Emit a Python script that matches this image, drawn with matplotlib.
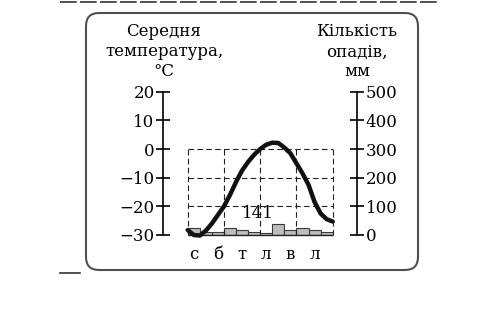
import matplotlib
matplotlib.use('Agg')
import matplotlib.pyplot as plt
from matplotlib.patches import FancyBboxPatch
from matplotlib.lines import Line2D

# data
months = ['с', 'б', 'т', 'л', 'в', 'л']
month_pos = [0.5, 2.5, 4.5, 6.5, 8.5, 10.5]
bar_pos = [0.5, 1.5, 2.5, 3.5, 4.5, 5.5, 6.5, 7.5, 8.5, 9.5, 10.5, 11.5]
precip = [23, 11, 9, 23, 18, 11, 6, 37, 17, 23, 18, 9]
annual_precip = 141
# temperature curve, read every half month
temp_x = [0, 0.5, 1, 1.5, 2, 2.5, 3, 3.5, 4, 4.5, 5, 5.5, 6,
          6.5, 7, 7.5, 8, 8.5, 9, 9.5, 10, 10.5, 11, 11.5, 12]
temp = [-28.3, -30, -30.2, -28.5, -26, -23, -20, -16, -11.5, -7.5, -4.5, -2, 0,
        1.5, 2.2, 2.1, 0.5, -1.5, -5, -8.5, -12.5, -18.5, -22.5, -24.5, -25.3]
temp_ticks = [-30, -20, -10, 0, 10, 20]
precip_ticks = [0, 100, 200, 300, 400, 500]

plt.rcParams['font.family'] = 'DejaVu Serif'
fs = 12

fig = plt.figure(figsize=(4.91, 3.09), dpi=100)

# rounded frame
frame = FancyBboxPatch((0.86, 0.39), 3.32, 2.57,
                       boxstyle='round,pad=0,rounding_size=0.13',
                       transform=fig.dpi_scale_trans, fill=False,
                       edgecolor='#505050', lw=1.5)
fig.patches.append(frame)
# page leftovers
fig.lines.append(Line2D([0.6, 4.4], [3.07, 3.07], transform=fig.dpi_scale_trans,
                        color='#333333', lw=1.2, dashes=(10, 2)))
fig.lines.append(Line2D([0.6, 0.8], [0.36, 0.36], transform=fig.dpi_scale_trans,
                        color='#333333', lw=1.2))

ax = fig.add_axes([0.3823, 0.2395, 0.2953, 0.4638])
ax2 = ax.twinx()
ax.set_zorder(ax2.get_zorder() + 1)
ax.patch.set_visible(False)

ax.set_xlim(0, 12)
ax.set_ylim(-30, 20)
ax2.set_ylim(0, 500)

# precipitation bars
ax2.bar(bar_pos, precip, width=1, color='#bdbdbd', edgecolor='#3a3a3a', lw=0.8)

# dashed grid box
dash = (0, (5, 3))
ax.vlines([0, 3, 6, 9, 12], -30, 0, colors='#222222', lw=0.8,
          linestyles=[dash], clip_on=False)
ax.hlines([0, -10, -20], 0, 12, colors='#222222', lw=0.8,
          linestyles=[dash], clip_on=False)
ax.hlines([-30], 0, 12, colors='#222222', lw=1.0, clip_on=False)

# temperature curve
ax.plot(temp_x, temp, color='#111111', lw=3.2, solid_capstyle='round',
        solid_joinstyle='round', clip_on=False)

ax.text(5.8, -22.6, str(annual_precip), ha='center', va='center', fontsize=fs)

for s in ['top', 'bottom', 'right']:
    ax.spines[s].set_visible(False)
for s in ['top', 'bottom', 'left']:
    ax2.spines[s].set_visible(False)
ax.spines['left'].set_position(('axes', -0.168))
ax.spines['left'].set_bounds(-30, 20)
ax2.spines['right'].set_position(('axes', 1.166))
ax2.spines['right'].set_bounds(0, 500)
ax.spines['left'].set_linewidth(1.2)
ax2.spines['right'].set_linewidth(1.2)

ax.set_yticks(temp_ticks)
ax.tick_params(axis='y', direction='inout', length=9.5, width=1.2,
               labelsize=fs, pad=1.5)
ax2.set_yticks(precip_ticks)
ax2.tick_params(axis='y', direction='inout', length=9.5, width=1.2,
                labelsize=fs, pad=1.5)
ax.set_xticks(month_pos, months)
ax.tick_params(axis='x', length=0, labelsize=fs, pad=8)

# axis headers
for txt, y in [('Середня', 31.7), ('температура,', 52), ('°C', 71)]:
    fig.text(164 / 491, 1 - y / 309, txt, ha='center', va='center', fontsize=fs)
for txt, y in [('Кількість', 31.7), ('опадів,', 52), ('мм', 71.7)]:
    fig.text(357 / 491, 1 - y / 309, txt, ha='center', va='center', fontsize=fs)

fig.savefig('out.png', dpi=100)
